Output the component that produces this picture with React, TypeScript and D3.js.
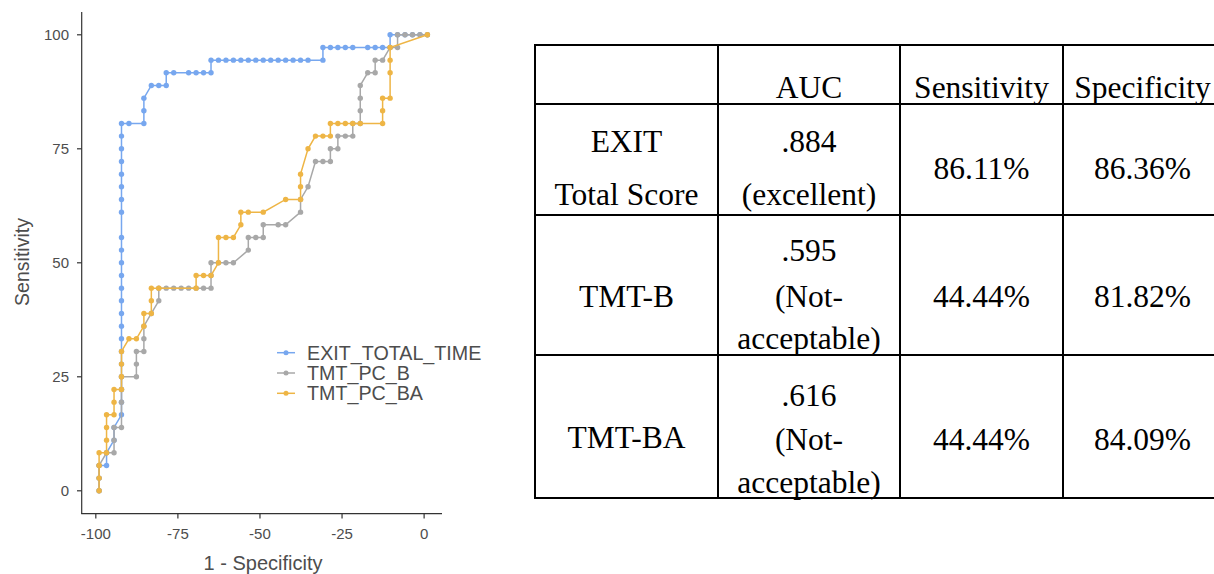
import React from 'react';
import * as d3 from 'd3';

// ---- ROC data (x = 1 - Specificity, y = Sensitivity) ----
const exitX = [-99, -99, -99, -96.73, -96.73, -94.45, -94.45,
  -92.18, -92.18, -92.18, -92.18, -92.18, -92.18, -92.18, -92.18, -92.18, -92.18, -92.18, -92.18, -92.18, -92.18, -92.18,
  -92.18, -92.18, -92.18, -92.18, -92.18, -92.18, -92.18, -92.18,
  -89.91, -85.36, -85.36, -85.36, -83.09, -80.82, -78.55, -78.55, -76.27, -71.73, -69.45, -67.18, -64.91, -64.91,
  -62.64, -60.36, -58.09, -55.82, -53.55, -51.27, -49, -46.73, -44.45, -42.18, -39.91, -37.64, -35.36, -30.82,
  -30.82, -28.55, -26.27, -24, -21.73, -17.18, -14.91, -12.64, -10.36, -10.36, -8.09, -5.82, -3.55, -1.27, 1];
const exitY = [0, 2.78, 5.56, 5.56, 8.33, 11.11, 13.89,
  16.67, 19.44, 22.22, 25, 27.78, 30.56, 33.33, 36.11, 38.89, 41.67, 44.44, 47.22, 50, 52.78, 55.56,
  61.11, 63.89, 66.67, 69.44, 72.22, 75, 77.78, 80.56,
  80.56, 80.56, 83.33, 86.11, 88.89, 88.89, 88.89, 91.67, 91.67, 91.67, 91.67, 91.67, 91.67, 94.44,
  94.44, 94.44, 94.44, 94.44, 94.44, 94.44, 94.44, 94.44, 94.44, 94.44, 94.44, 94.44, 94.44, 94.44,
  97.22, 97.22, 97.22, 97.22, 97.22, 97.22, 97.22, 97.22, 97.22, 100, 100, 100, 100, 100, 100];

const tmtBX = [-99, -99, -99, -96.73, -94.45, -94.45, -94.45, -92.18, -92.18, -92.18, -92.18, -87.64, -87.64, -87.64,
  -85.36, -85.36, -85.36, -83.09, -80.82, -80.82, -78.55, -76.27, -74, -71.73, -69.45, -67.18, -64.91, -64.91, -64.91,
  -62.64, -60.36, -58.09, -53.55, -53.55, -51.27, -49, -49, -44.45, -42.18, -37.64, -37.64, -35.36, -33.09, -30.82,
  -28.55, -28.55, -26.27, -26.27, -24, -21.73, -21.73, -19.45, -19.45, -19.45, -19.45, -17.18, -14.91, -14.91, -12.64,
  -10.36, -8.09, -8.09, -5.82, -3.55, -1.27, 1];
const tmtBY = [0, 2.78, 5.56, 8.33, 8.33, 11.11, 13.89, 13.89, 19.44, 22.22, 25, 25, 27.78, 30.56,
  30.56, 33.33, 36.11, 38.89, 41.67, 44.44, 44.44, 44.44, 44.44, 44.44, 44.44, 44.44, 44.44, 47.22, 50,
  50, 50, 50, 52.78, 55.56, 55.56, 55.56, 58.33, 58.33, 58.33, 61.11, 63.89, 66.67, 72.22, 72.22,
  72.22, 75, 75, 77.78, 77.78, 77.78, 80.56, 80.56, 83.33, 86.11, 88.89, 91.67, 91.67, 94.44, 94.44,
  97.22, 97.22, 100, 100, 100, 100, 100];

const tmtBAX = [-99, -99, -99, -99, -96.73, -96.73, -96.73, -96.73, -94.45, -94.45, -94.45, -92.18, -92.18, -92.18,
  -92.18, -89.91, -87.64, -85.36, -85.36, -83.09, -83.09, -83.09, -80.82, -69.45, -69.45, -67.18, -64.91, -62.64,
  -62.64, -60.36, -58.09, -55.82, -55.82, -53.55, -49, -42.18, -37.64, -37.64, -37.64, -35.36, -33.09, -30.82,
  -28.55, -28.55, -26.27, -24, -21.73, -19.45, -12.64, -12.64, -12.64, -10.36, -10.36, -10.36, -10.36, 1];
const tmtBAY = [0, 2.78, 5.56, 8.33, 8.33, 11.11, 13.89, 16.67, 16.67, 19.44, 22.22, 22.22, 25, 27.78,
  30.56, 33.33, 33.33, 36.11, 38.89, 38.89, 41.67, 44.44, 44.44, 44.44, 47.22, 47.22, 47.22, 50,
  55.56, 55.56, 55.56, 58.33, 61.11, 61.11, 61.11, 63.89, 63.89, 66.67, 69.44, 75, 77.78, 77.78,
  77.78, 80.56, 80.56, 80.56, 80.56, 80.56, 80.56, 83.33, 86.11, 86.11, 91.67, 94.44, 97.22, 100];

const seriesNames = ['EXIT_TOTAL_TIME', 'TMT_PC_B', 'TMT_PC_BA'];
const seriesColors = ['#77a7ef', '#a8a8a8', '#eeb545'];
const xTicks = [-100, -75, -50, -25, 0];
const yTicks = [0, 25, 50, 75, 100];
const xTitle = '1 - Specificity';
const yTitle = 'Sensitivity';

// ---- table ----
const tableHeader = ['', 'AUC', 'Sensitivity', 'Specificity'];
const tableMeasure = [['EXIT', 'Total Score'], ['TMT-B'], ['TMT-BA']];
const tableAUC = [['.884', '(excellent)'], ['.595', '(Not-', 'acceptable)'], ['.616', '(Not-', 'acceptable)']];
const tableSens = ['86.11%', '44.44%', '44.44%'];
const tableSpec = ['86.36%', '81.82%', '84.09%'];

export default function App() {
  const W = 1214, H = 574;
  const x = d3.scaleLinear().domain([-104.3, 5.5]).range([81.7, 81.7 + 109.8 * 3.283]);
  const y = d3.scaleLinear().domain([-5, 105]).range([513.6, 12]);
  const xs = [exitX, tmtBX, tmtBAX];
  const ys = [exitY, tmtBY, tmtBAY];
  const line = d3.line<[number, number]>().x(d => x(d[0])).y(d => y(d[1]));
  const axisColor = '#333333';
  const textColor = '#4d4d4d';
  const sans = 'Arial, "Liberation Sans", sans-serif';
  const serif = '"Times New Roman", "Liberation Serif", serif';

  const colX = [535, 718, 900, 1063, 1222];
  const rowY = [45, 104, 215, 355, 498];
  const colC = colX.slice(0, 4).map((v, i) => (v + colX[i + 1]) / 2);
  const tfs = 31.5;

  // baselines for table text lines
  const measureLines = [[152, 205], [307], [448]];
  const aucLines = [[152, 205], [261, 307, 349], [406, 450, 493]];
  const valueLines = [179, 307, 450];

  return (
    <svg width={W} height={H} style={{ position: 'absolute', left: 0, top: 0, background: '#fff' }}>
      {/* axes */}
      <line x1={81.7} x2={81.7} y1={12} y2={514} stroke={axisColor} strokeWidth={1.2} />
      <line x1={81.2} x2={442} y1={513.6} y2={513.6} stroke={axisColor} strokeWidth={1.2} />
      {yTicks.map(t => (
        <g key={'y' + t}>
          <line x1={77} x2={81.7} y1={y(t)} y2={y(t)} stroke={axisColor} strokeWidth={1.2} />
          <text x={69} y={y(t) + 5.3} textAnchor="end" fontFamily={sans} fontSize={15} fill={textColor}>{t}</text>
        </g>
      ))}
      {xTicks.map(t => (
        <g key={'x' + t}>
          <line x1={x(t)} x2={x(t)} y1={513.6} y2={518.5} stroke={axisColor} strokeWidth={1.2} />
          <text x={x(t)} y={538.5} textAnchor="middle" fontFamily={sans} fontSize={15} fill={textColor}>{t}</text>
        </g>
      ))}
      <text x={263} y={570} textAnchor="middle" fontFamily={sans} fontSize={20} fill={textColor}>{xTitle}</text>
      <text transform={`translate(29,262) rotate(-90)`} textAnchor="middle" fontFamily={sans} fontSize={19.5} fill={textColor}>{yTitle}</text>

      {/* series */}
      {seriesNames.map((n, si) => {
        const pts: [number, number][] = xs[si].map((v, i) => [v, ys[si][i]]);
        return (
          <g key={n}>
            <path d={line(pts) || ''} fill="none" stroke={seriesColors[si]} strokeWidth={1.5} />
            {pts.map((p, i) => (
              <circle key={i} cx={x(p[0])} cy={y(p[1])} r={2.7} fill={seriesColors[si]} />
            ))}
          </g>
        );
      })}

      {/* legend */}
      {seriesNames.map((n, si) => {
        const ly = 352.7 + si * 20.3;
        return (
          <g key={'lg' + n}>
            <line x1={277} x2={295} y1={ly} y2={ly} stroke={seriesColors[si]} strokeWidth={1.5} />
            <circle cx={286} cy={ly} r={2.5} fill={seriesColors[si]} />
            <text x={307} y={ly + 7} fontFamily={sans} fontSize={19.7} fill={textColor}>{n}</text>
          </g>
        );
      })}

      {/* table */}
      <g stroke="#000" strokeWidth={2}>
        {rowY.map((ry, i) => <line key={'r' + i} x1={colX[0] - 1} x2={colX[4]} y1={ry} y2={ry} />)}
        {colX.map((cx, i) => <line key={'c' + i} x1={cx} x2={cx} y1={rowY[0] - 1} y2={rowY[4] + 1} />)}
      </g>
      <g fontFamily={serif} fontSize={tfs} fill="#000" textAnchor="middle">
        {tableHeader.map((h, i) => <text key={'h' + i} x={colC[i]} y={98} >{h}</text>)}
        {tableMeasure.map((lines, ri) => lines.map((t, li) => (
          <text key={'m' + ri + li} x={colC[0]} y={measureLines[ri][li]}>{t}</text>
        )))}
        {tableAUC.map((lines, ri) => lines.map((t, li) => (
          <text key={'a' + ri + li} x={colC[1]} y={aucLines[ri][li]}>{t}</text>
        )))}
        {tableSens.map((t, ri) => <text key={'s' + ri} x={colC[2]} y={valueLines[ri]}>{t}</text>)}
        {tableSpec.map((t, ri) => <text key={'p' + ri} x={colC[3]} y={valueLines[ri]}>{t}</text>)}
      </g>
    </svg>
  );
}
